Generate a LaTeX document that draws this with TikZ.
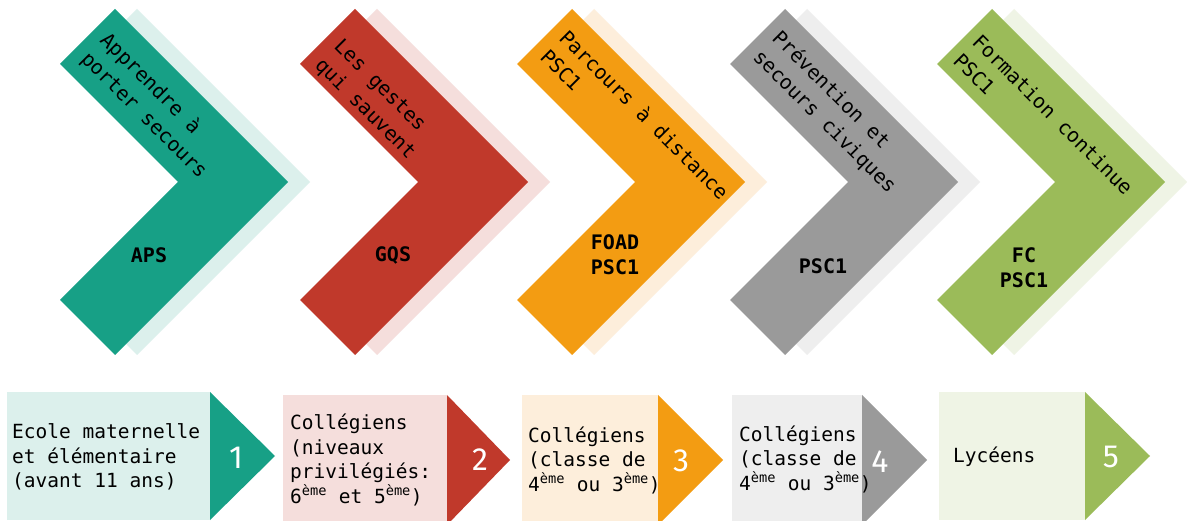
\documentclass[tikz,border=0pt]{standalone}
\usepackage{fontspec}
\setmainfont{DejaVu Sans}
\setmonofont{DejaVu Sans Mono}
\newfontfamily\numfont{Fira Sans}
\definecolor{cTeal}{HTML}{17A086}
\definecolor{lTeal}{HTML}{DCF0EC}
\definecolor{cRed}{HTML}{C0392B}
\definecolor{lRed}{HTML}{F5DEDC}
\definecolor{cOrange}{HTML}{F39C12}
\definecolor{lOrange}{HTML}{FDEEDB}
\definecolor{cGray}{HTML}{9A9A9A}
\definecolor{lGray}{HTML}{EEEEEE}
\definecolor{cGreen}{HTML}{9BBB59}
\definecolor{lGreen}{HTML}{EFF4E5}
\newcommand\chevpath[1]{(#1,9) -- ++(173,173) -- ++(-173,173) -- ++(-55,-55) -- ++(118,-118) -- ++(-118,-118) -- cycle}
\newcommand\drawchev[3]{%
  \fill[#3] \chevpath{#1+22};
  \fill[#2] \chevpath{#1};}
\tikzset{
  rtext/.style={rotate=-45, anchor=base west, inner sep=0pt, align=left,
    font=\ttfamily\fontsize{20}{27}\selectfont, text=black},
  lbl/.style={inner sep=0pt, align=center,
    font=\ttfamily\bfseries\fontsize{20}{25}\selectfont, text=black},
  btext/.style={anchor=west, inner sep=0pt, align=left,
    font=\ttfamily\fontsize{19.5}{24.5}\selectfont, text=black},
  num/.style={inner sep=0pt, text=white, font=\numfont\fontsize{32}{36}\selectfont}
}
\begin{document}
\begin{tikzpicture}[x=1pt,y=-1pt]
\useasboundingbox (0,0) rectangle (1187,521);
\clip (0,0) rectangle (1187,521);
\fill[white] (0,0) rectangle (1187,521);
% chevrons
\drawchev{115}{cTeal}{lTeal}
\drawchev{355}{cRed}{lRed}
\drawchev{572}{cOrange}{lOrange}
\drawchev{785}{cGray}{lGray}
\drawchev{992}{cGreen}{lGreen}
% rotated texts (anchor on the baseline of the last line)
\node[rtext] (t1) at (80,60) {Apprendre à\\porter secours};
\node[rtext] (t2) at (314,66) {Les gestes\\qui sauvent};
\node[rtext] (t3) at (539,58) {Parcours à distance\\PSC1};
\node[rtext] (t4) at (752,58) {Prévention et\\secours civiques};
\node[rtext] (t5) at (952,62) {Formation continue\\PSC1};
% chevron labels
\node[lbl] (l1) at (149,255) {APS};
\node[lbl] (l2) at (393,255) {GQS};
\node[lbl] (l3) at (615,255) {FOAD\\PSC1};
\node[lbl] (l4) at (823,266) {PSC1};
\node[lbl] (l5) at (1024,268) {FC\\PSC1};
% bottom boxes
\fill[lTeal] (7,392) rectangle (210,520);
\fill[cTeal] (210,392) -- (275,456) -- (210,520) -- cycle;
\fill[lRed] (283,395) rectangle (447,530);
\fill[cRed] (447,395) -- (510,460) -- (447,525) -- cycle;
\fill[lOrange] (522,395) rectangle (658,530);
\fill[cOrange] (658,395) -- (723,460) -- (658,525) -- cycle;
\fill[lGray] (732,395) rectangle (862,530);
\fill[cGray] (862,395) -- (927,460) -- (862,525) -- cycle;
\fill[lGreen] (939,392) rectangle (1085,520);
\fill[cGreen] (1085,392) -- (1150,456) -- (1085,520) -- cycle;
% bottom texts
\node[btext] (b1) at (12,457) {Ecole maternelle\\et élémentaire\\(avant 11 ans)};
\node[btext] (b2) at (290,460) {Collégiens\\(niveaux\\privilégiés:\\6\textsuperscript{ème} et 5\textsuperscript{ème})};
\node[btext] (b3) at (528,460) {Collégiens\\(classe de\\4\textsuperscript{ème} ou 3\textsuperscript{ème})};
\node[btext] (b4) at (739,459) {Collégiens\\(classe de\\4\textsuperscript{ème} ou 3\textsuperscript{ème})};
\node[btext] (b5) at (953,457) {Lycéens};
% numbers
\node[num] (n1) at (236,458) {1};
\node[num] (n2) at (480,460) {2};
\node[num] (n3) at (681,461) {3};
\node[num] (n4) at (880,462) {4};
\node[num] (n5) at (1111,457) {5};
\end{tikzpicture}
\end{document}
